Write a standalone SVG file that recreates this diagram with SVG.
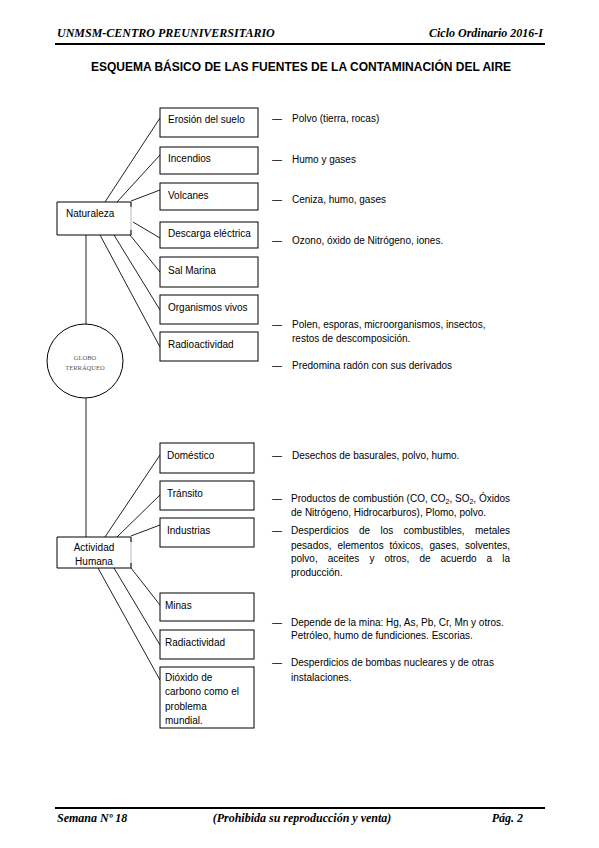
<svg xmlns="http://www.w3.org/2000/svg" width="599" height="848" viewBox="0 0 599 848">
<style>
.hd{font-family:"Liberation Serif",serif;font-weight:bold;font-style:italic;font-size:12px;fill:#000}
.ttl{font-family:"Liberation Sans",Arial,sans-serif;font-weight:bold;font-size:12px;fill:#000}
.t{font-family:"Liberation Sans",Arial,sans-serif;font-size:10px;fill:#000}
.g{font-family:"Liberation Serif",serif;font-size:6.5px;fill:#555}
.box{fill:#fff;stroke:#000;stroke-width:1}
.cn{stroke:#222;stroke-width:1;fill:none}
.rule{stroke:#000;fill:none}
</style>
<rect width="599" height="848" fill="#fff"/>
<g id="header">
<text class="hd" x="57" y="37">UNMSM-CENTRO PREUNIVERSITARIO</text>
<text class="hd" x="543" y="37" text-anchor="end">Ciclo Ordinario 2016-I</text>
<line class="rule" x1="55" y1="44" x2="545" y2="44" stroke-width="1.8"/>
<text class="ttl" x="301" y="71" text-anchor="middle">ESQUEMA BÁSICO DE LAS FUENTES DE LA CONTAMINACIÓN DEL AIRE</text>
</g>
<g id="connectors">
<line class="cn" x1="86" y1="235" x2="86" y2="324"/>
<line class="cn" x1="86" y1="398" x2="86" y2="537"/>
<line class="cn" x1="105" y1="202" x2="160" y2="118"/>
<line class="cn" x1="117" y1="202" x2="160" y2="155"/>
<line class="cn" x1="131" y1="201" x2="160" y2="190"/>
<line class="cn" x1="133" y1="222" x2="160" y2="238"/>
<line class="cn" x1="130" y1="235" x2="160" y2="272"/>
<line class="cn" x1="114" y1="235" x2="160" y2="310"/>
<line class="cn" x1="100" y1="235" x2="160" y2="347"/>
<line class="cn" x1="105" y1="537" x2="160" y2="455"/>
<line class="cn" x1="117" y1="537" x2="160" y2="495"/>
<line class="cn" x1="131" y1="536" x2="160" y2="525"/>
<line class="cn" x1="131" y1="568" x2="160" y2="605"/>
<line class="cn" x1="114" y1="568" x2="160" y2="645"/>
<line class="cn" x1="98" y1="568" x2="160" y2="680"/>
</g>
<g id="globo">
<ellipse cx="85" cy="361" rx="38" ry="37" fill="#fff" stroke="#000" stroke-width="1"/>
<text class="g" x="85" y="360" text-anchor="middle">GLOBO</text>
<text class="g" x="85" y="370" text-anchor="middle">TERRÁQUEO</text>
</g>
<g id="naturaleza">
<rect x="57" y="202" width="74" height="33" fill="#fff"/>
<path d="M131 202 H57 V235 H131" fill="none" stroke="#000"/>
<line x1="131" y1="202" x2="131" y2="235" stroke="#bbb"/>
<line x1="131" y1="202" x2="131" y2="207" stroke="#000"/>
<line x1="131" y1="230" x2="131" y2="235" stroke="#000"/>
<text class="t" x="66" y="217">Naturaleza</text>
</g>
<g id="actividad-humana">
<rect x="57" y="537" width="74" height="31" fill="#fff"/>
<path d="M131 537 H57 V568 H131" fill="none" stroke="#000"/>
<line x1="131" y1="537" x2="131" y2="568" stroke="#bbb"/>
<line x1="131" y1="537" x2="131" y2="542" stroke="#000"/>
<line x1="131" y1="563" x2="131" y2="568" stroke="#000"/>
<text class="t" x="94" y="551" text-anchor="middle">Actividad</text>
<text class="t" x="94" y="565" text-anchor="middle">Humana</text>
</g>
<g id="erosion"><rect class="box" x="160" y="108" width="98" height="29"/><text class="t" x="168" y="123">Erosión del suelo</text></g>
<g id="incendios"><rect class="box" x="160" y="147" width="98" height="27"/><text class="t" x="168" y="162">Incendios</text></g>
<g id="volcanes"><rect class="box" x="160" y="183" width="98" height="27"/><text class="t" x="168" y="199">Volcanes</text></g>
<g id="descarga"><rect class="box" x="160" y="222" width="98" height="26"/><text class="t" x="168" y="237">Descarga eléctrica</text></g>
<g id="sal-marina"><rect class="box" x="160" y="257" width="98" height="30"/><text class="t" x="168" y="274">Sal Marina</text></g>
<g id="organismos"><rect class="box" x="160" y="295" width="98" height="29"/><text class="t" x="168" y="311">Organismos vivos</text></g>
<g id="radioactividad"><rect class="box" x="160" y="332" width="98" height="29"/><text class="t" x="168" y="348">Radioactividad</text></g>
<g id="domestico"><rect class="box" x="160" y="443" width="94" height="30"/><text class="t" x="167" y="459">Doméstico</text></g>
<g id="transito"><rect class="box" x="160" y="481" width="94" height="29"/><text class="t" x="167" y="497">Tránsito</text></g>
<g id="industrias"><rect class="box" x="160" y="518" width="94" height="29"/><text class="t" x="167" y="534">Industrias</text></g>
<g id="minas"><rect class="box" x="160" y="593" width="94" height="28"/><text class="t" x="165" y="609">Minas</text></g>
<g id="radiactividad"><rect class="box" x="160" y="630" width="94" height="29"/><text class="t" x="165" y="646">Radiactividad</text></g>
<g id="dioxido"><rect class="box" x="160" y="667" width="94" height="61"/>
<text class="t" x="165" y="681">Dióxido de</text>
<text class="t" x="165" y="695">carbono como el</text>
<text class="t" x="165" y="710">problema</text>
<text class="t" x="165" y="724">mundial.</text></g>
<g id="descripciones">
<text class="t" y="122"><tspan x="272">—</tspan><tspan x="292">Polvo (tierra, rocas)</tspan></text>
<text class="t" y="163"><tspan x="272">—</tspan><tspan x="292">Humo y gases</tspan></text>
<text class="t" y="203"><tspan x="272">—</tspan><tspan x="292">Ceniza, humo, gases</tspan></text>
<text class="t" y="244"><tspan x="272">—</tspan><tspan x="292">Ozono, óxido de Nitrógeno, iones.</tspan></text>
<text class="t" y="328"><tspan x="272">—</tspan><tspan x="292">Polen, esporas, microorganismos, insectos,</tspan></text>
<text class="t" x="292" y="342">restos de descomposición.</text>
<text class="t" y="369"><tspan x="272">—</tspan><tspan x="292">Predomina radón con sus derivados</tspan></text>
<text class="t" y="459"><tspan x="272">—</tspan><tspan x="292">Desechos de basurales, polvo, humo.</tspan></text>
<text class="t" y="502"><tspan x="272">—</tspan><tspan x="291">Productos de combustión (CO, CO</tspan><tspan font-size="7" dy="2">2</tspan><tspan dy="-2">, SO</tspan><tspan font-size="7" dy="2">2</tspan><tspan dy="-2">, Óxidos</tspan></text>
<text class="t" x="291" y="516">de Nitrógeno, Hidrocarburos), Plomo, polvo.</text>
<text class="t" y="534"><tspan x="272">—</tspan><tspan x="291">Desperdicios</tspan><tspan x="359">de</tspan><tspan x="380.5">los</tspan><tspan x="403.5">combustibles,</tspan></text>
<text class="t" x="510" y="534" text-anchor="end">metales</text>
<text class="t" y="549"><tspan x="291">pesados,</tspan><tspan x="337.5">elementos</tspan><tspan x="389.5">tóxicos,</tspan><tspan x="429.5">gases,</tspan></text>
<text class="t" x="510" y="549" text-anchor="end">solventes,</text>
<text class="t" y="562"><tspan x="291">polvo,</tspan><tspan x="327.7">aceites</tspan><tspan x="369.4">y</tspan><tspan x="384.4">otros,</tspan><tspan x="419.4">de</tspan><tspan x="440.5">acuerdo</tspan><tspan x="486.6">a</tspan></text>
<text class="t" x="510" y="562" text-anchor="end">la</text>
<text class="t" x="291" y="576">producción.</text>
<text class="t" y="626"><tspan x="272">—</tspan><tspan x="291">Depende de la mina: Hg, As, Pb, Cr, Mn y otros.</tspan></text>
<text class="t" x="291" y="639">Petróleo, humo de fundiciones. Escorias.</text>
<text class="t" y="666"><tspan x="272">—</tspan><tspan x="291">Desperdicios de bombas nucleares y de otras</tspan></text>
<text class="t" x="291" y="681">instalaciones.</text>
</g>
<g id="footer">
<line class="rule" x1="55" y1="808" x2="545" y2="808" stroke-width="1.8"/>
<text class="hd" x="57" y="822">Semana Nº 18</text>
<text class="hd" x="302" y="822" text-anchor="middle">(Prohibida su reproducción y venta)</text>
<text class="hd" x="523" y="822" text-anchor="end">Pág. 2</text>
</g>
</svg>
